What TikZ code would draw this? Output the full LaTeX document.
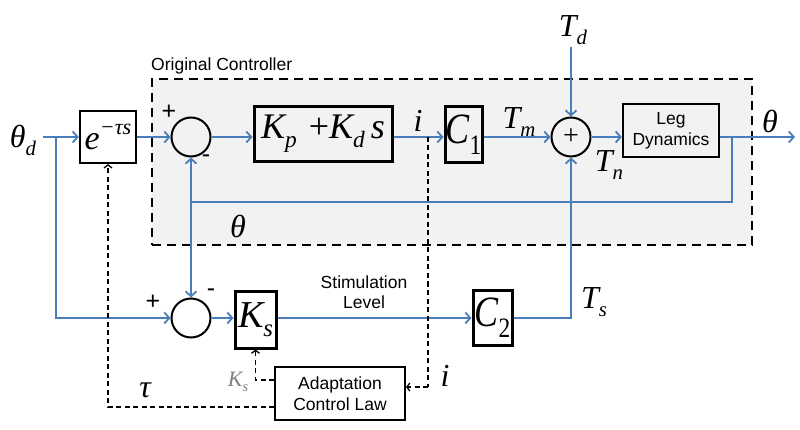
\documentclass[tikz,border=0pt]{standalone}
\usepackage{fontspec}
\setsansfont{Liberation Sans}
\newfontfamily\tmf{Liberation Serif}
\usetikzlibrary{arrows.meta}
\definecolor{lineblue}{RGB}{74,126,187}
\definecolor{boxgray}{RGB}{242,242,242}
\newcommand\lo[1]{\raisebox{-0.25em}{\scalebox{0.65}{#1}}}
\newcommand\hi[1]{\raisebox{0.45em}{\scalebox{0.65}{#1}}}
\begin{document}
\begin{tikzpicture}[x=1pt,y=-1pt,
  sig/.style={draw=lineblue,line width=1.8pt},
  sigarrow/.style={sig,-{Straight Barb[length=5pt,width=11pt,line width=1.8pt]}},
  sigboth/.style={sig,{Straight Barb[length=5pt,width=11pt,line width=1.8pt]}-{Straight Barb[length=5pt,width=11pt,line width=1.8pt]}},
  dsh/.style={draw=black,line width=1.3pt,dash pattern=on 5pt off 3.5pt},
  dasharrow/.style={dsh,-{Straight Barb[length=3pt,width=8pt,line width=1.3pt]}},
  ctrlbox/.style={draw=black,fill=boxgray,line width=2.5pt,dash pattern=on 9pt off 6pt,inner sep=0pt},
  blockbox/.style={draw=black,line width=3pt,inner sep=0pt},
  thinbox/.style={draw=black,line width=2pt,inner sep=0pt,align=center,font=\sffamily\fontsize{17.5}{21}\selectfont},
  sumnode/.style={circle,draw=black,line width=2pt,minimum size=39pt,inner sep=0pt},
  mlab/.style={inner sep=0pt,font=\tmf\itshape\fontsize{32}{32}\selectfont},
  sgn/.style={inner sep=0pt,font=\sffamily\fontsize{25}{25}\selectfont},
  txt/.style={inner sep=0pt,align=center,font=\sffamily\fontsize{17.5}{20}\selectfont}
]
\useasboundingbox (0,0) rectangle (800,430);
% original controller region
\node[ctrlbox,minimum width=600pt,minimum height=166pt] (ctrl) at (452,162) {};
\node[txt,anchor=west] (octitle) at (151,66) {Original Controller};
% blocks
\node[blockbox,line width=2.3pt,minimum width=56pt,minimum height=52pt,font=\tmf\itshape\fontsize{34}{34}\selectfont] (delay) at (108,137) {e\hi{−τs}};
\node[sumnode] (sum1) at (191,137) {};
\node[blockbox,minimum width=138pt,minimum height=55pt,font=\tmf\itshape\fontsize{36}{36}\selectfont] (pd) at (323,134) {K\lo{p}\,\,\upshape+\itshape K\lo{d}\,s};
\node[blockbox,minimum width=37pt,minimum height=56pt,font=\tmf\itshape\fontsize{36}{36}\selectfont] (C1) at (463.5,135) {\scalebox{1}[1.2]{C\lo{\upshape 1}}};
\node[sumnode,font=\tmf\fontsize{28}{28}\selectfont] (sum2) at (571,137) {\raisebox{1pt}{+}};
\node[thinbox,line width=2.3pt,minimum width=96pt,minimum height=53pt] (leg) at (671,130.5) {Leg\\Dynamics};
\node[sumnode] (sum3) at (191,318) {};
\node[blockbox,minimum width=41pt,minimum height=57pt,font=\tmf\itshape\fontsize{38}{38}\selectfont] (Ks) at (255.5,319.5) {K\lo{s}};
\node[blockbox,minimum width=39pt,minimum height=55pt,font=\tmf\itshape\fontsize{36}{36}\selectfont] (C2) at (492.5,317.5) {\scalebox{1}[1.2]{C\lo{\upshape 2}}};
\node[thinbox,minimum width=130pt,minimum height=53pt] (adapt) at (340,393.5) {Adaptation\\Control Law};
% coordinates
\coordinate (in) at (43,137);
\coordinate (b1) at (56,137);
\coordinate (b2) at (732,137);
\coordinate (out) at (795,137);
\coordinate (fb) at (191,202);
\coordinate (itap) at (428,137);
\coordinate (icorner) at (428,387);
\coordinate (Td0) at (571,47);
\coordinate (ksy) at (0,380);
\coordinate (tauy) at (0,407);
% signal connectors
\draw[sig] (in) -- (b1);
\draw[sigarrow] (b1) -- (delay.west);
\draw[sigarrow] (delay.east) -- (sum1.west);
\draw[sigarrow] (sum1.east) -- (sum1.east -| pd.west);
\draw[sigarrow] (pd.east |- sum1) -- (C1.west |- sum1);
\draw[sigarrow] (C1.east |- sum1) -- (sum2.west);
\draw[sigarrow] (Td0) -- (sum2.north);
\draw[sigarrow] (sum2.east) -- (sum2.east -| leg.west);
\draw[sigarrow] (leg.east |- sum2) -- (out);
\draw[sig] (b2) |- (fb);
\draw[sigboth] (sum1.south) -- (sum3.north);
\draw[sigarrow] (b1) |- (sum3.west);
\draw[sigarrow] (sum3.east) -- (sum3.east -| Ks.west);
\draw[sigarrow] (Ks.east |- sum3) -- (C2.west |- sum3);
\draw[sigarrow] (C2.east |- sum3) -| (sum2.south);
% dashed adaptation connectors
\draw[dsh] (itap) -- (icorner);
\draw[dasharrow] (icorner) -- (icorner -| adapt.east);
\draw[dasharrow] (adapt.west |- ksy) -| (Ks.south);
\draw[dasharrow] (adapt.west |- tauy) -| (delay.south);
% labels
\node[mlab] (lthd) at (23,140) {θ\lo{d}};
\node[sgn] (p1) at (169,112) {+};
\node[sgn] (m1) at (206,159) {-};
\node[mlab] (li1) at (418,121) {i};
\node[mlab] (lTm) at (519,122) {T\lo{m}};
\node[mlab] (lTd) at (573,30) {T\lo{d}};
\node[mlab] (lTn) at (609,165) {T\lo{n}};
\node[mlab] (lth1) at (770,121) {θ};
\node[mlab] (lth2) at (238,226) {θ};
\node[sgn] (p3) at (153,302) {+};
\node[sgn] (m3) at (211,293) {-};
\node[txt] (stim) at (364,292) {Stimulation\\Level};
\node[mlab] (lTs) at (594,302) {T\lo{s}};
\node[inner sep=0pt,font=\tmf\itshape\fontsize{22}{22}\selectfont,text=gray] (lKs) at (238,382) {K\lo{s}};
\node[mlab] (ltau) at (145,390) {τ};
\node[mlab] (li2) at (445,376) {i};
\end{tikzpicture}
\end{document}
